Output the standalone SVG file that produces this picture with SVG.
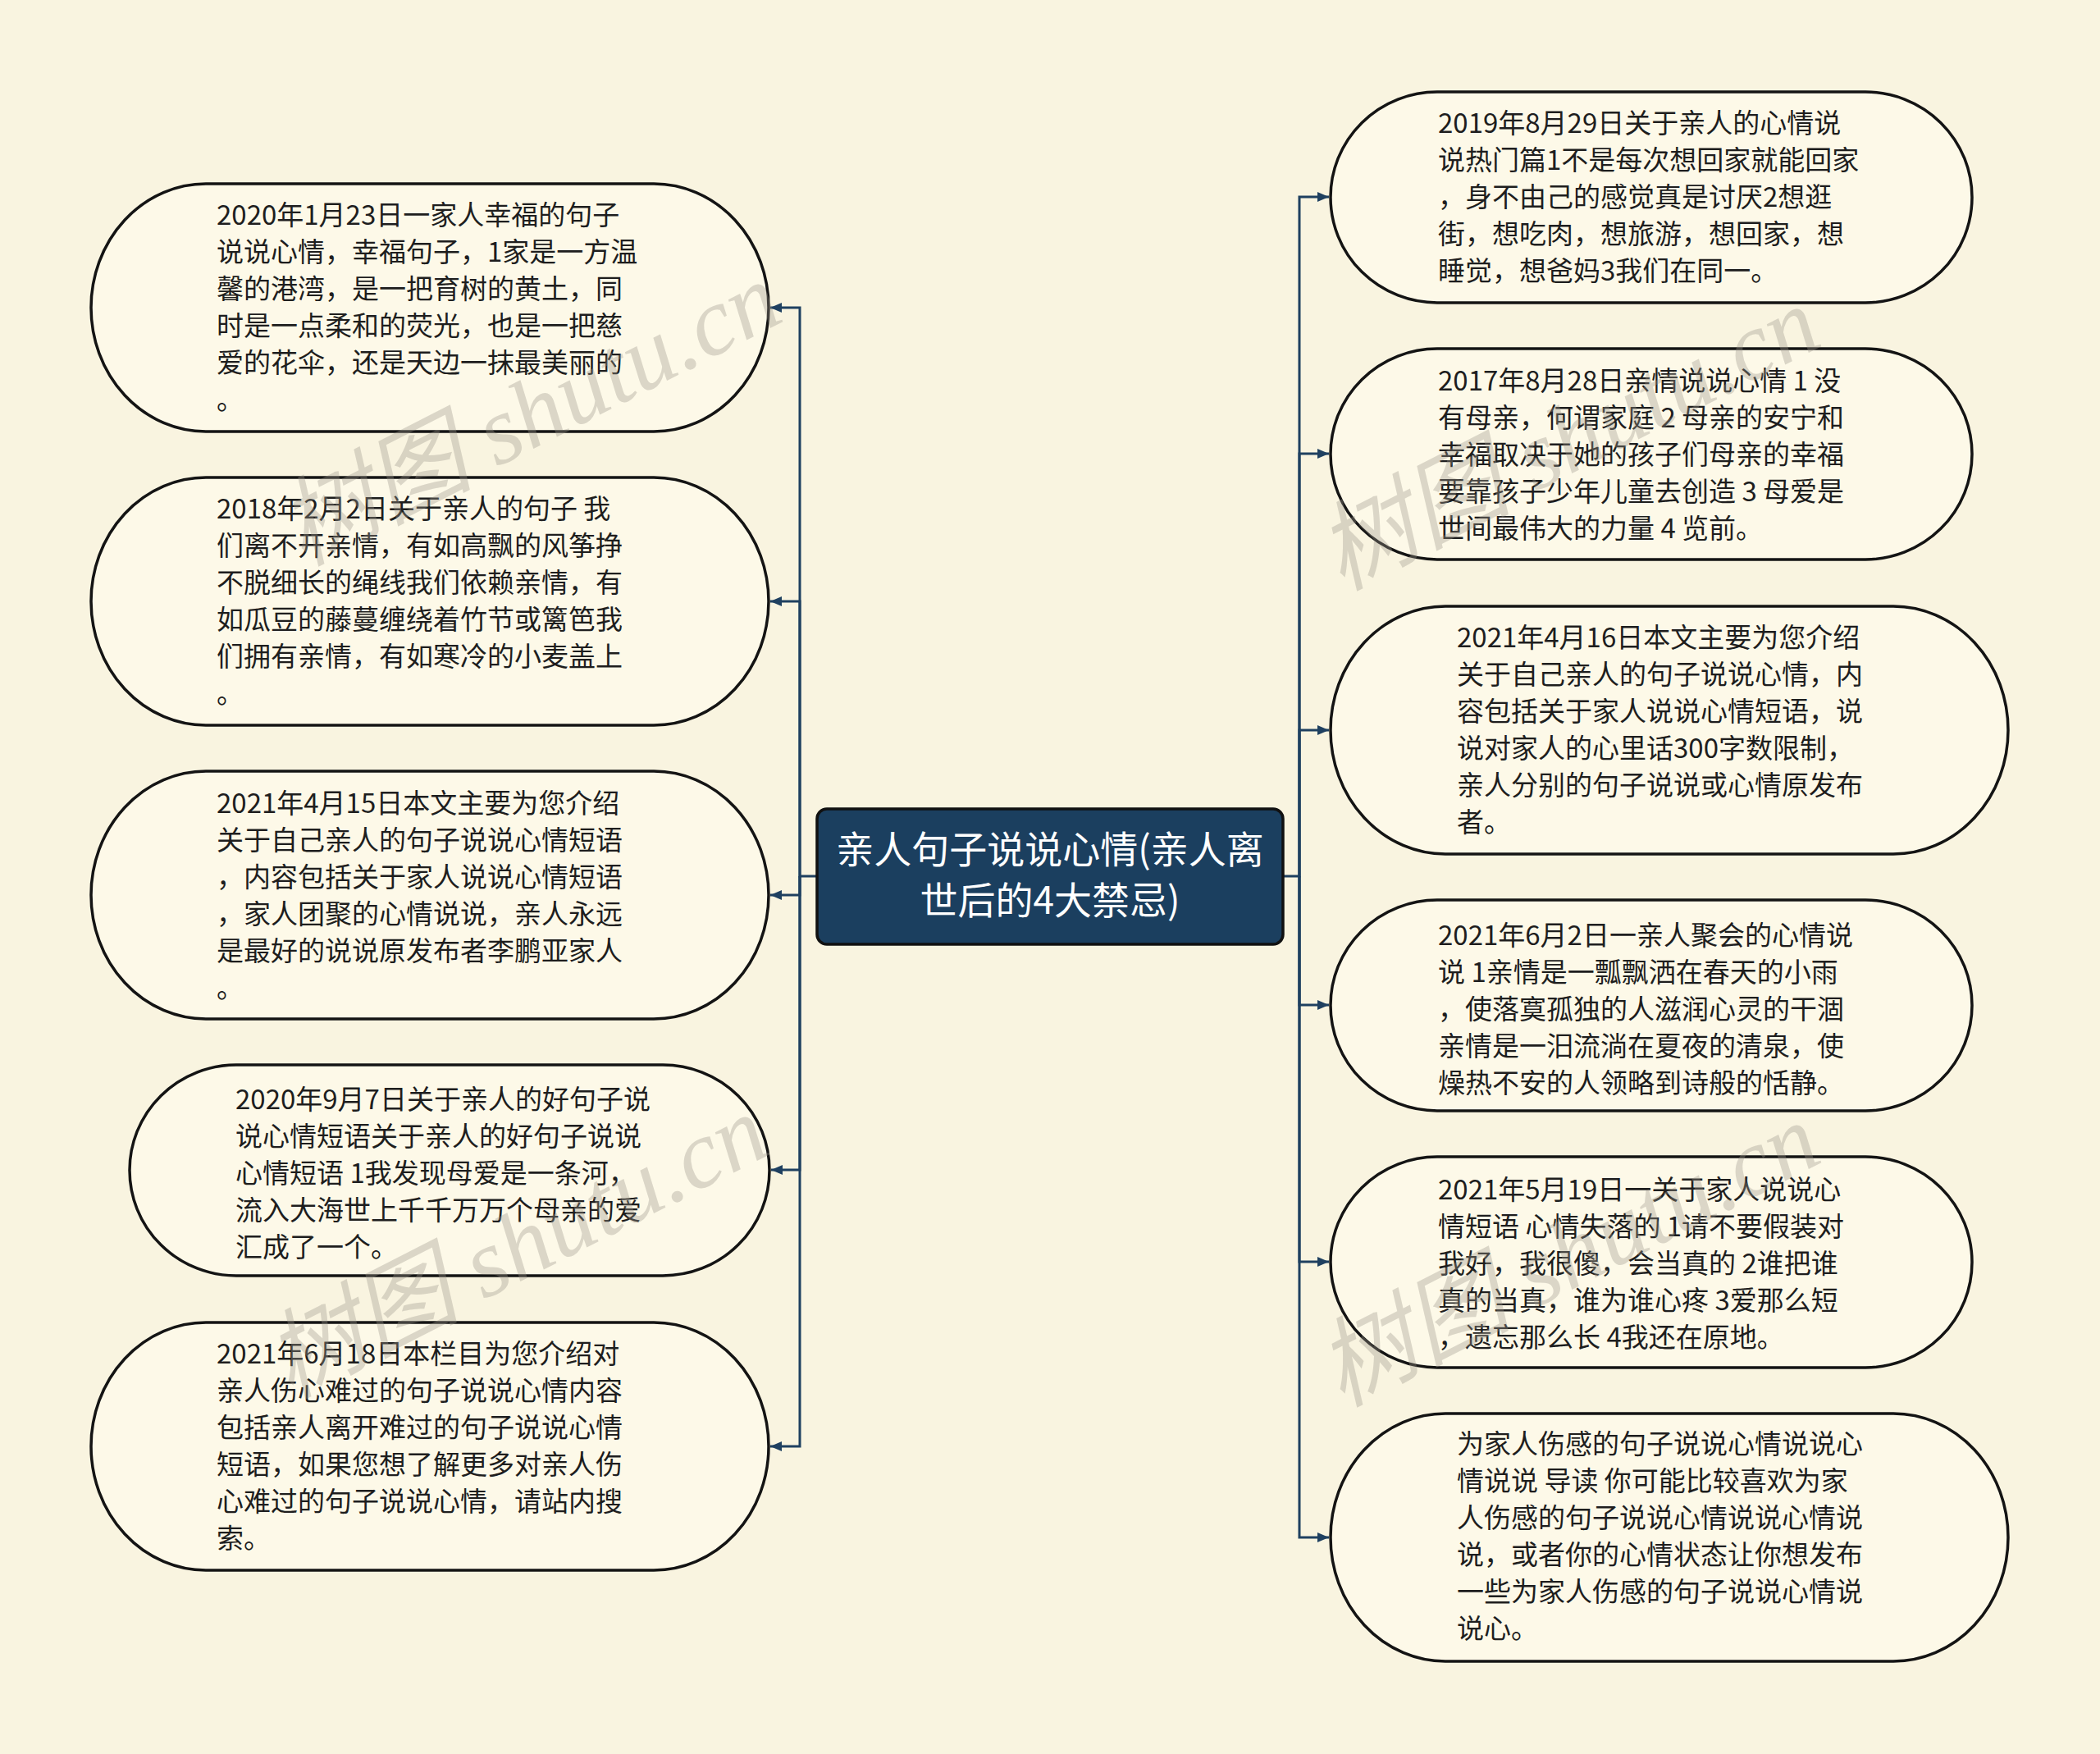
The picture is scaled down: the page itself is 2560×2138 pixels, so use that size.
<svg xmlns="http://www.w3.org/2000/svg" width="2560" height="2138" viewBox="0 0 2560 2138">
<defs>
<style>
.bg{fill:#f9f4e0}
.node{fill:#fdf9e8;stroke:#141414;stroke-width:3.5}
.center{fill:#1b3f5f;stroke:#111;stroke-width:3.5}
.t{font-family:"Noto Sans CJK SC","Noto Sans",sans-serif;font-size:33px;fill:#1e1e1e}
.ct{font-family:"Noto Sans CJK SC","Noto Sans",sans-serif;font-size:46px;fill:#ffffff;text-anchor:middle}
.conn{fill:none;stroke:#1f4060;stroke-width:3}
.wm{font-family:"Liberation Serif","Noto Sans CJK SC",serif;font-style:italic;font-size:118px;fill:#9a958a;fill-opacity:0.35;text-anchor:middle}
</style>
<marker id="arr" markerUnits="userSpaceOnUse" markerWidth="16" markerHeight="14" refX="14" refY="7" orient="auto">
<path d="M0,1 L14,7 L0,13 Z" fill="#1f4060"/>
</marker>
</defs>
<rect class="bg" x="0" y="0" width="2560" height="2138"/>

<g id="connectors">
<path class="conn" d="M996,1068 H975 V375 H939" marker-end="url(#arr)"/>
<path class="conn" d="M975,1068 V733 H939" marker-end="url(#arr)"/>
<path class="conn" d="M975,1068 V1091 H939" marker-end="url(#arr)"/>
<path class="conn" d="M975,1068 V1426 H940" marker-end="url(#arr)"/>
<path class="conn" d="M975,1068 V1763 H939" marker-end="url(#arr)"/>
<path class="conn" d="M1564,1068 H1584 V240 H1620" marker-end="url(#arr)"/>
<path class="conn" d="M1584,1068 V553 H1620" marker-end="url(#arr)"/>
<path class="conn" d="M1584,1068 V890 H1620" marker-end="url(#arr)"/>
<path class="conn" d="M1584,1068 V1225 H1620" marker-end="url(#arr)"/>
<path class="conn" d="M1584,1068 V1538 H1620" marker-end="url(#arr)"/>
<path class="conn" d="M1584,1068 V1874 H1620" marker-end="url(#arr)"/>
</g>

<g id="center">
<rect class="center" x="996" y="986" width="568" height="165" rx="12"/>
<text class="ct" x="1280" y="1052">亲人句子说说心情(亲人离</text>
<text class="ct" x="1280" y="1114">世后的4大禁忌)</text>
</g>

<g id="L1">
<rect class="node" x="111" y="224" width="826" height="302" rx="140" ry="151"/>
<text class="t" x="264" y="274"><tspan x="264">2020年1月23日一家人幸福的句子</tspan><tspan x="264" dy="45">说说心情，幸福句子，1家是一方温</tspan><tspan x="264" dy="45">馨的港湾，是一把育树的黄土，同</tspan><tspan x="264" dy="45">时是一点柔和的荧光，也是一把慈</tspan><tspan x="264" dy="45">爱的花伞，还是天边一抹最美丽的</tspan><tspan x="264" dy="45">。</tspan></text>
</g>

<g id="L2">
<rect class="node" x="111" y="582" width="826" height="302" rx="140" ry="151"/>
<text class="t" x="264" y="632"><tspan x="264">2018年2月2日关于亲人的句子 我</tspan><tspan x="264" dy="45">们离不开亲情，有如高飘的风筝挣</tspan><tspan x="264" dy="45">不脱细长的绳线我们依赖亲情，有</tspan><tspan x="264" dy="45">如瓜豆的藤蔓缠绕着竹节或篱笆我</tspan><tspan x="264" dy="45">们拥有亲情，有如寒冷的小麦盖上</tspan><tspan x="264" dy="45">。</tspan></text>
</g>

<g id="L3">
<rect class="node" x="111" y="940" width="826" height="302" rx="140" ry="151"/>
<text class="t" x="264" y="991"><tspan x="264">2021年4月15日本文主要为您介绍</tspan><tspan x="264" dy="45">关于自己亲人的句子说说心情短语</tspan><tspan x="264" dy="45">，内容包括关于家人说说心情短语</tspan><tspan x="264" dy="45">，家人团聚的心情说说，亲人永远</tspan><tspan x="264" dy="45">是最好的说说原发布者李鹏亚家人</tspan><tspan x="264" dy="45">。</tspan></text>
</g>

<g id="L4">
<rect class="node" x="158" y="1298" width="780" height="257" rx="130" ry="128.5"/>
<text class="t" x="287" y="1352"><tspan x="287">2020年9月7日关于亲人的好句子说</tspan><tspan x="287" dy="45">说心情短语关于亲人的好句子说说</tspan><tspan x="287" dy="45">心情短语 1我发现母爱是一条河，</tspan><tspan x="287" dy="45">流入大海世上千千万万个母亲的爱</tspan><tspan x="287" dy="45">汇成了一个。</tspan></text>
</g>

<g id="L5">
<rect class="node" x="111" y="1612" width="826" height="302" rx="140" ry="151"/>
<text class="t" x="264" y="1662"><tspan x="264">2021年6月18日本栏目为您介绍对</tspan><tspan x="264" dy="45">亲人伤心难过的句子说说心情内容</tspan><tspan x="264" dy="45">包括亲人离开难过的句子说说心情</tspan><tspan x="264" dy="45">短语，如果您想了解更多对亲人伤</tspan><tspan x="264" dy="45">心难过的句子说说心情，请站内搜</tspan><tspan x="264" dy="45">索。</tspan></text>
</g>

<g id="R1">
<rect class="node" x="1622" y="112" width="782" height="257" rx="130" ry="128.5"/>
<text class="t" x="1753" y="162"><tspan x="1753">2019年8月29日关于亲人的心情说</tspan><tspan x="1753" dy="45">说热门篇1不是每次想回家就能回家</tspan><tspan x="1753" dy="45">，身不由己的感觉真是讨厌2想逛</tspan><tspan x="1753" dy="45">街，想吃肉，想旅游，想回家，想</tspan><tspan x="1753" dy="45">睡觉，想爸妈3我们在同一。</tspan></text>
</g>

<g id="R2">
<rect class="node" x="1622" y="425" width="782" height="257" rx="130" ry="128.5"/>
<text class="t" x="1753" y="476"><tspan x="1753">2017年8月28日亲情说说心情 1 没</tspan><tspan x="1753" dy="45">有母亲，何谓家庭 2 母亲的安宁和</tspan><tspan x="1753" dy="45">幸福取决于她的孩子们母亲的幸福</tspan><tspan x="1753" dy="45">要靠孩子少年儿童去创造 3 母爱是</tspan><tspan x="1753" dy="45">世间最伟大的力量 4 览前。</tspan></text>
</g>

<g id="R3">
<rect class="node" x="1622" y="739" width="826" height="302" rx="140" ry="151"/>
<text class="t" x="1776" y="789"><tspan x="1776">2021年4月16日本文主要为您介绍</tspan><tspan x="1776" dy="45">关于自己亲人的句子说说心情，内</tspan><tspan x="1776" dy="45">容包括关于家人说说心情短语，说</tspan><tspan x="1776" dy="45">说对家人的心里话300字数限制，</tspan><tspan x="1776" dy="45">亲人分别的句子说说或心情原发布</tspan><tspan x="1776" dy="45">者。</tspan></text>
</g>

<g id="R4">
<rect class="node" x="1622" y="1097" width="782" height="257" rx="130" ry="128.5"/>
<text class="t" x="1753" y="1152"><tspan x="1753">2021年6月2日一亲人聚会的心情说</tspan><tspan x="1753" dy="45">说 1亲情是一瓢飘洒在春天的小雨</tspan><tspan x="1753" dy="45">，使落寞孤独的人滋润心灵的干涸</tspan><tspan x="1753" dy="45">亲情是一汨流淌在夏夜的清泉，使</tspan><tspan x="1753" dy="45">燥热不安的人领略到诗般的恬静。</tspan></text>
</g>

<g id="R5">
<rect class="node" x="1622" y="1410" width="782" height="257" rx="130" ry="128.5"/>
<text class="t" x="1753" y="1462"><tspan x="1753">2021年5月19日一关于家人说说心</tspan><tspan x="1753" dy="45">情短语 心情失落的 1请不要假装对</tspan><tspan x="1753" dy="45">我好，我很傻，会当真的 2谁把谁</tspan><tspan x="1753" dy="45">真的当真，谁为谁心疼 3爱那么短</tspan><tspan x="1753" dy="45">，遗忘那么长 4我还在原地。</tspan></text>
</g>

<g id="R6">
<rect class="node" x="1622" y="1723" width="826" height="302" rx="140" ry="151"/>
<text class="t" x="1776" y="1772"><tspan x="1776">为家人伤感的句子说说心情说说心</tspan><tspan x="1776" dy="45">情说说 导读 你可能比较喜欢为家</tspan><tspan x="1776" dy="45">人伤感的句子说说心情说说心情说</tspan><tspan x="1776" dy="45">说，或者你的心情状态让你想发布</tspan><tspan x="1776" dy="45">一些为家人伤感的句子说说心情说</tspan><tspan x="1776" dy="45">说心。</tspan></text>
</g>

<g id="watermarks">
<text class="wm" transform="translate(664,540) rotate(-27)">树图 shutu.cn</text>
<text class="wm" transform="translate(648,1555) rotate(-27)">树图 shutu.cn</text>
<text class="wm" transform="translate(1930,570) rotate(-27)">树图 shutu.cn</text>
<text class="wm" transform="translate(1930,1565) rotate(-27)">树图 shutu.cn</text>
</g>
</svg>
